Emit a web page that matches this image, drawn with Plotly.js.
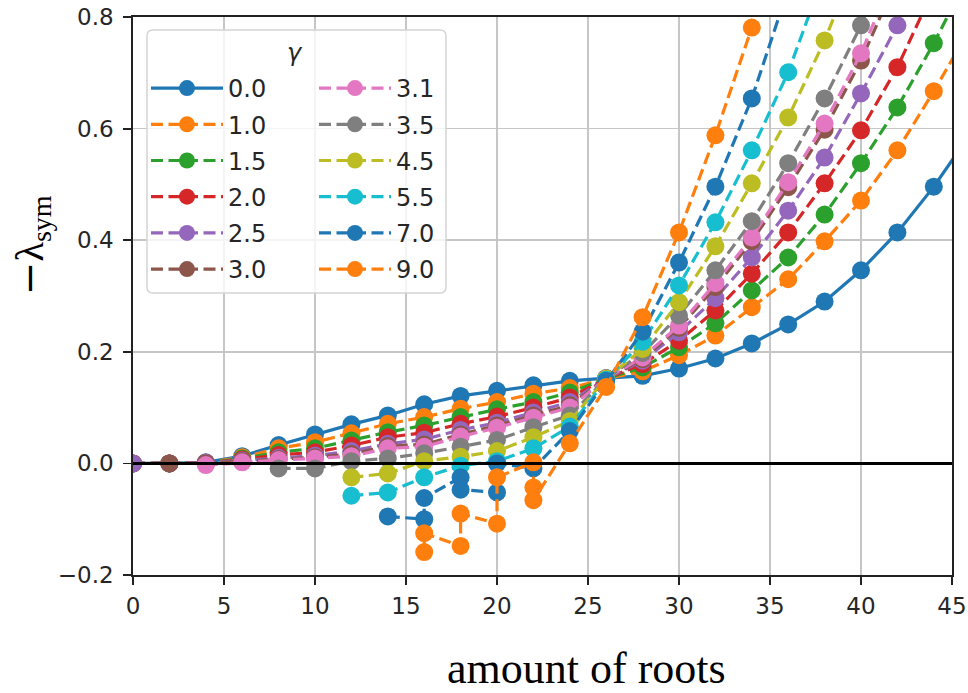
<!DOCTYPE html>
<html><head><meta charset="utf-8">
<script src="https://cdn.plot.ly/plotly-3.0.1.min.js"></script>
<style>html,body{margin:0;padding:0;background:#fff}</style>
</head><body><div id="chart" style="width:968px;height:693px"></div>
<script>
// gamma labels (legend)
const gammaLabels = ['0.0','1.0','1.5','2.0','2.5','3.0','3.1','3.5','4.5','5.5','7.0','9.0'];
const colors = ['#1f77b4','#ff7f0e','#2ca02c','#d62728','#9467bd','#8c564b','#e377c2','#7f7f7f','#bcbd22','#17becf','#1f77b4','#ff7f0e'];

// amount of roots (x) and -lambda_sym (y) for each gamma
const x_g00 = [0,2,4,6,8,10,12,14,16,18,20,22,24,26,28,30,32,34,36,38,40,42,44,46];
const y_g00 = [0,0,0.002,0.013,0.033,0.052,0.07,0.086,0.106,0.121,0.13,0.14,0.148,0.153,0.157,0.17,0.188,0.215,0.249,0.29,0.346,0.414,0.496,0.59];

const x_g10 = [0,2,4,6,8,10,12,14,16,18,20,22,24,26,28,30,32,34,36,38,40,42,44,46];
const y_g10 = [0,0,0.001,0.011,0.027,0.038,0.054,0.071,0.083,0.098,0.11,0.125,0.135,0.152,0.165,0.194,0.229,0.28,0.33,0.398,0.471,0.561,0.667,0.78];

const x_g15 = [0,2,4,6,8,10,12,14,16,18,20,22,24,26,28,30,32,34,36,38,40,42,44,46];
const y_g15 = [0,0,0.001,0.009,0.02,0.027,0.041,0.056,0.068,0.083,0.097,0.11,0.127,0.152,0.172,0.208,0.251,0.31,0.369,0.446,0.538,0.638,0.753,0.88];

const x_g20 = [0,2,4,6,8,10,12,14,16,18,20,22,24,26,28,30,32,34,36,38,40,42,44];
const y_g20 = [0,0,0.001,0.007,0.015,0.02,0.032,0.047,0.055,0.071,0.084,0.1,0.118,0.152,0.178,0.22,0.274,0.34,0.414,0.502,0.597,0.71,0.85];

const x_g25 = [0,2,4,6,8,10,12,14,16,18,20,22,24,26,28,30,32,34,36,38,40,42,44];
const y_g25 = [0,0,0.001,0.005,0.01,0.014,0.022,0.035,0.043,0.06,0.073,0.091,0.11,0.152,0.184,0.235,0.296,0.369,0.453,0.548,0.663,0.785,0.93];

const x_g30 = [2,4,6,8,10,12,14,16,18,20,22,24,26,28,30,32,34,36,38,40,42];
const y_g30 = [0,0,0.004,0.008,0.011,0.017,0.031,0.034,0.052,0.068,0.086,0.104,0.152,0.187,0.243,0.316,0.398,0.495,0.598,0.722,0.87];

const x_g31 = [4,6,8,10,12,14,16,18,20,22,24,26,28,30,32,34,36,38,40,42];
const y_g31 = [-0.003,0.002,0.006,0.009,0.013,0.027,0.03,0.048,0.064,0.082,0.1,0.152,0.19,0.247,0.323,0.405,0.504,0.609,0.735,0.89];

const x_g35 = [8,10,12,14,16,18,20,22,24,26,28,30,32,34,36,38,40,42];
const y_g35 = [-0.009,-0.009,0.004,0.009,0.018,0.03,0.042,0.065,0.086,0.152,0.198,0.265,0.346,0.434,0.538,0.654,0.785,0.95];

const x_g45 = [12,14,16,18,20,22,24,26,28,30,32,34,36,38,40];
const y_g45 = [-0.025,-0.018,0.004,0.012,0.022,0.047,0.076,0.152,0.205,0.289,0.389,0.502,0.62,0.758,0.92];

const x_g55 = [12,14,16,18,20,22,24,26,28,30,32,34,36,38];
const y_g55 = [-0.058,-0.052,-0.025,-0.004,0.004,0.027,0.066,0.15,0.218,0.319,0.432,0.561,0.701,0.88];

const x_g70 = [14,16,16,18,18,20,20,22,24,26,28,30,32,34,36];
const y_g70 = [-0.095,-0.1,-0.062,-0.025,-0.047,-0.052,0.0,-0.009,0.058,0.148,0.236,0.36,0.496,0.654,0.85];

const x_g90 = [16,16,18,18,20,20,22,22,22,24,26,28,30,32,34,36];
const y_g90 = [-0.159,-0.125,-0.148,-0.09,-0.108,-0.025,0.002,-0.043,-0.066,0.036,0.137,0.262,0.414,0.588,0.781,1.0];

const xTicks = [0,5,10,15,20,25,30,35,40,45];
const yTicks = [-0.2,0,0.2,0.4,0.6,0.8];

const seriesX = [x_g00,x_g10,x_g15,x_g20,x_g25,x_g30,x_g31,x_g35,x_g45,x_g55,x_g70,x_g90];
const seriesY = [y_g00,y_g10,y_g15,y_g20,y_g25,y_g30,y_g31,y_g35,y_g45,y_g55,y_g70,y_g90];

const traces = seriesX.map((xs, i) => ({
  type: 'scatter', mode: 'lines+markers',
  x: xs, y: seriesY[i], name: gammaLabels[i],
  line: {color: colors[i], width: 3.2, dash: i === 0 ? 'solid' : '12px,5.5px'},
  marker: {size: 18, color: colors[i]},
  legend: i < 6 ? 'legend' : 'legend2',
  legendgroup: 'g' + i,
  cliponaxis: true
}));

// plot area in px: x 133..952, y 17..575
const L = 133, T = 17, W = 819, H = 558;
const px = v => (v - L) / W;
const py = v => (T + H - v) / H;

function roundRect(x0, y0, x1, y1, r) {
  const X0 = px(x0), X1 = px(x1), Y0 = py(y1), Y1 = py(y0);
  const rx = r / W, ry = r / H;
  return `M${X0+rx},${Y0} L${X1-rx},${Y0} Q${X1},${Y0} ${X1},${Y0+ry} L${X1},${Y1-ry} Q${X1},${Y1} ${X1-rx},${Y1} L${X0+rx},${Y1} Q${X0},${Y1} ${X0},${Y1-ry} L${X0},${Y0+ry} Q${X0},${Y0} ${X0+rx},${Y0} Z`;
}

const tickFont = {family: 'DejaVu Sans', size: 23, color: '#262626'};
const legendCommon = {
  xanchor: 'left', yanchor: 'top', bgcolor: 'rgba(0,0,0,0)', borderwidth: 0,
  font: {family: 'DejaVu Sans', size: 24, color: '#262626'},
  tracegroupgap: 2, itemwidth: 72, traceorder: 'grouped'
};

const layout = {
  width: 968, height: 693,
  margin: {l: L, r: 968 - L - W, t: T, b: 693 - T - H},
  paper_bgcolor: '#fff', plot_bgcolor: '#fff',
  showlegend: true,
  xaxis: {
    range: [0, 45], tickvals: xTicks, showgrid: true, gridcolor: '#c6c6c6', gridwidth: 1.5,
    showline: true, linecolor: '#222', linewidth: 1.8, mirror: true,
    ticks: 'outside', ticklen: 8, tickwidth: 1.8, tickcolor: '#222',
    tickfont: tickFont, zeroline: false, ticklabelstandoff: 2
  },
  yaxis: {
    range: [-0.2, 0.8], tickvals: yTicks, tickformat: '.1f', showgrid: true, gridcolor: '#c6c6c6', gridwidth: 1.5,
    showline: true, linecolor: '#222', linewidth: 1.8, mirror: true,
    ticks: 'outside', ticklen: 8, tickwidth: 1.8, tickcolor: '#222',
    tickfont: tickFont, zeroline: false, ticklabelstandoff: 5
  },
  legend: Object.assign({x: px(146), y: py(66)}, legendCommon),
  legend2: Object.assign({x: px(314), y: py(66)}, legendCommon),
  shapes: [
    {type: 'line', xref: 'paper', yref: 'y', x0: 0, x1: 1, y0: 0, y1: 0, line: {color: '#000', width: 3}, layer: 'above'},
    {type: 'path', xref: 'paper', yref: 'paper', path: roundRect(147, 30, 446, 293, 6),
     fillcolor: 'rgba(255,255,255,0.8)', line: {color: '#d4d4d4', width: 1.5}, layer: 'above'}
  ],
  annotations: [
    {xref: 'paper', yref: 'paper', x: px(295), y: py(53), text: '<i>γ</i>', showarrow: false,
     font: {family: 'DejaVu Sans', size: 24, color: '#262626'}, xanchor: 'center', yanchor: 'middle'},
    {xref: 'paper', yref: 'paper', x: px(586), y: py(668), text: 'amount of roots', showarrow: false,
     font: {family: 'Liberation Serif', size: 44, color: '#000'}, xanchor: 'center', yanchor: 'middle'},
    {xref: 'paper', yref: 'paper', x: px(32), y: py(245), textangle: -90, showarrow: false,
     text: '<span style="font-family:DejaVu Serif">−</span>λ<sub>sym</sub>',
     font: {family: 'Liberation Serif', size: 40, color: '#000'}, xanchor: 'center', yanchor: 'middle'}
  ]
};

Plotly.newPlot('chart', traces, layout, {displayModeBar: false, staticPlot: true});
</script></body></html>
